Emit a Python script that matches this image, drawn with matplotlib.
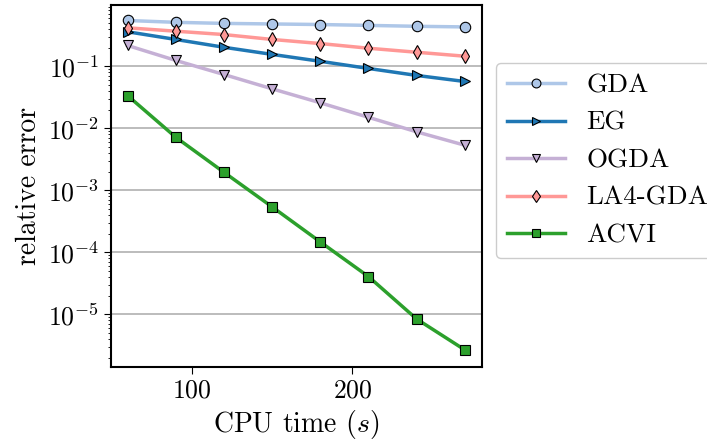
import numpy as np
import matplotlib
matplotlib.use("Agg")
import matplotlib.pyplot as plt

plt.rcParams['font.family'] = 'serif'
plt.rcParams['font.serif'] = ['cmr10', 'DejaVu Serif']
plt.rcParams['mathtext.fontset'] = 'cm'
plt.rcParams['axes.formatter.use_mathtext'] = True

# cpu time (s)
cpu_time = [60, 90, 120, 150, 180, 210, 240, 270]

gda = [0.546, 0.51, 0.49, 0.48, 0.47, 0.455, 0.44, 0.43]
eg = [0.359, 0.27, 0.202, 0.155, 0.12, 0.092, 0.071, 0.0567]
ogda = [0.216, 0.124, 0.0735, 0.0432, 0.0257, 0.015, 0.00875, 0.00532]
la4_gda = [0.416, 0.367, 0.324, 0.27, 0.232, 0.195, 0.168, 0.145]
acvi = [0.0336, 0.00716, 0.00195, 5.4e-4, 1.47e-4, 4.06e-5, 8.4e-6, 2.67e-6]

fig = plt.figure(figsize=(7.07, 4.43), dpi=100)
ax = fig.add_axes([0.1566, 0.1722, 0.6813 - 0.1566, 0.9887 - 0.1722])

series = [
    ("GDA", gda, '#aec7e8', 'o'),
    ("EG", eg, '#1f77b4', '>'),
    ("OGDA", ogda, '#c5b0d5', 'v'),
    ("LA4-GDA", la4_gda, '#ff9896', 'd'),
    ("ACVI", acvi, '#2ca02c', 's'),
]
for name, vals, col, mk in series:
    ax.plot(cpu_time, vals, color=col, marker=mk, markersize=7.5,
            markeredgecolor='black', markeredgewidth=0.8, linewidth=2.5, label=name)

ax.set_yscale('log')
ax.set_ylim(1.43e-6, 0.97)
ax.grid(True, axis='y', which='major', color='#b0b0b0', linewidth=1.2)
ax.set_axisbelow(True)
ax.set_xticks([100, 200])
ax.tick_params(labelsize=18.5)
ax.tick_params(which='major', length=5)
ax.set_xlabel('CPU time ($s$)', fontsize=20)
ax.set_ylabel('relative error', fontsize=20)
for s in ax.spines.values():
    s.set_linewidth(1.5)

fig.legend(loc='upper left', bbox_to_anchor=(495.7 / 707, 1 - 62.7 / 443),
           borderaxespad=0, fontsize=19.5, framealpha=1, edgecolor='#cccccc',
           handlelength=2.15, markerscale=0.85)

fig.savefig('out.png', dpi=100)
